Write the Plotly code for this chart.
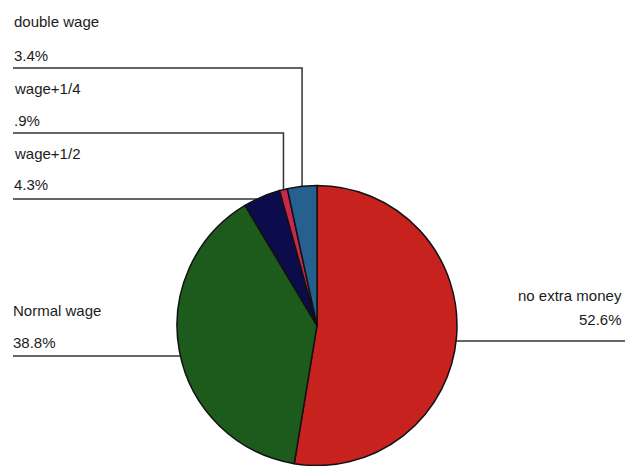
import math
import plotly.graph_objects as go

# Extra-pay categories and their shares (%)
labels = ["no extra money", "Normal wage", "wage+1/2", "wage+1/4", "double wage"]
shares = [52.6, 38.8, 4.3, 0.9, 3.4]
pct_text = ["52.6%", "38.8%", "4.3%", ".9%", "3.4%"]
colors = ["#c8221e", "#1d5b1d", "#0c0c4c", "#c8284c", "#26608f"]

W, H = 625, 466
CX, CY, R = 317, 325.5, 140  # pie centre / radius in pixels

# label block layout: (x, name_y, pct_y, line_y, anchor side)
label_layout = {
    "double wage":    dict(x=12, ny=22, py=56, ly=68, align="left"),
    "wage+1/4":       dict(x=12, ny=89, py=120, ly=133, align="left"),
    "wage+1/2":       dict(x=12, ny=153, py=185, ly=199, align="left"),
    "Normal wage":    dict(x=11, ny=310, py=342, ly=356, align="left"),
    "no extra money": dict(x=624, ny=295, py=319, ly=341, align="right"),
}


def px(x):
    return x / W


def py(y):
    return 1 - y / H


fig = go.Figure(go.Pie(
    labels=labels,
    values=shares,
    sort=False,
    direction="clockwise",
    rotation=0,
    textinfo="none",
    hoverinfo="label+percent",
    marker=dict(colors=colors, line=dict(color="#111111", width=1.5)),
    domain=dict(x=[px(CX - R), px(CX + R)], y=[py(CY + R), py(CY - R)]),
    showlegend=False,
))

annotations = []
shapes = []
line_style = dict(color="#333333", width=1.5)
font = dict(family="Liberation Sans, Arial, sans-serif", size=15, color="#1c1c1c")

cum = 0.0
total = sum(shares)
for lab, val, txt in zip(labels, shares, pct_text):
    mid = (cum + val / 2) / total * 2 * math.pi
    cum += val
    ax = CX + R * math.sin(mid)
    ay = CY - R * math.cos(mid)
    L = label_layout[lab]
    anchor = "left" if L["align"] == "left" else "right"
    annotations.append(dict(x=px(L["x"]), y=py(L["ny"]), xref="paper", yref="paper",
                            text=lab, showarrow=False, xanchor=anchor, yanchor="middle",
                            font=font))
    annotations.append(dict(x=px(L["x"]), y=py(L["py"]), xref="paper", yref="paper",
                            text=txt, showarrow=False, xanchor=anchor, yanchor="middle",
                            font=font))
    ly = L["ly"]
    start_x = 13 if anchor == "left" else W
    if abs(ly - ay) < 20:
        # horizontal leader meeting the pie rim at the label line height
        dy = ly - CY
        dx = math.sqrt(max(R * R - dy * dy, 0))
        ex = CX - dx if ax < CX else CX + dx
        path = f"M {px(start_x)} {py(ly)} L {px(ex)} {py(ly)}"
    else:
        # elbow leader: across, then down to the slice midpoint on the rim
        path = (f"M {px(start_x)} {py(ly)} L {px(ax)} {py(ly)} "
                f"L {px(ax)} {py(ay)}")
    shapes.append(dict(type="path", path=path, xref="paper", yref="paper",
                       line=line_style, layer="below"))

fig.update_layout(
    width=W, height=H,
    margin=dict(l=0, r=0, t=0, b=0),
    paper_bgcolor="white",
    plot_bgcolor="white",
    annotations=annotations,
    shapes=shapes,
)

fig.write_html("out.html")
